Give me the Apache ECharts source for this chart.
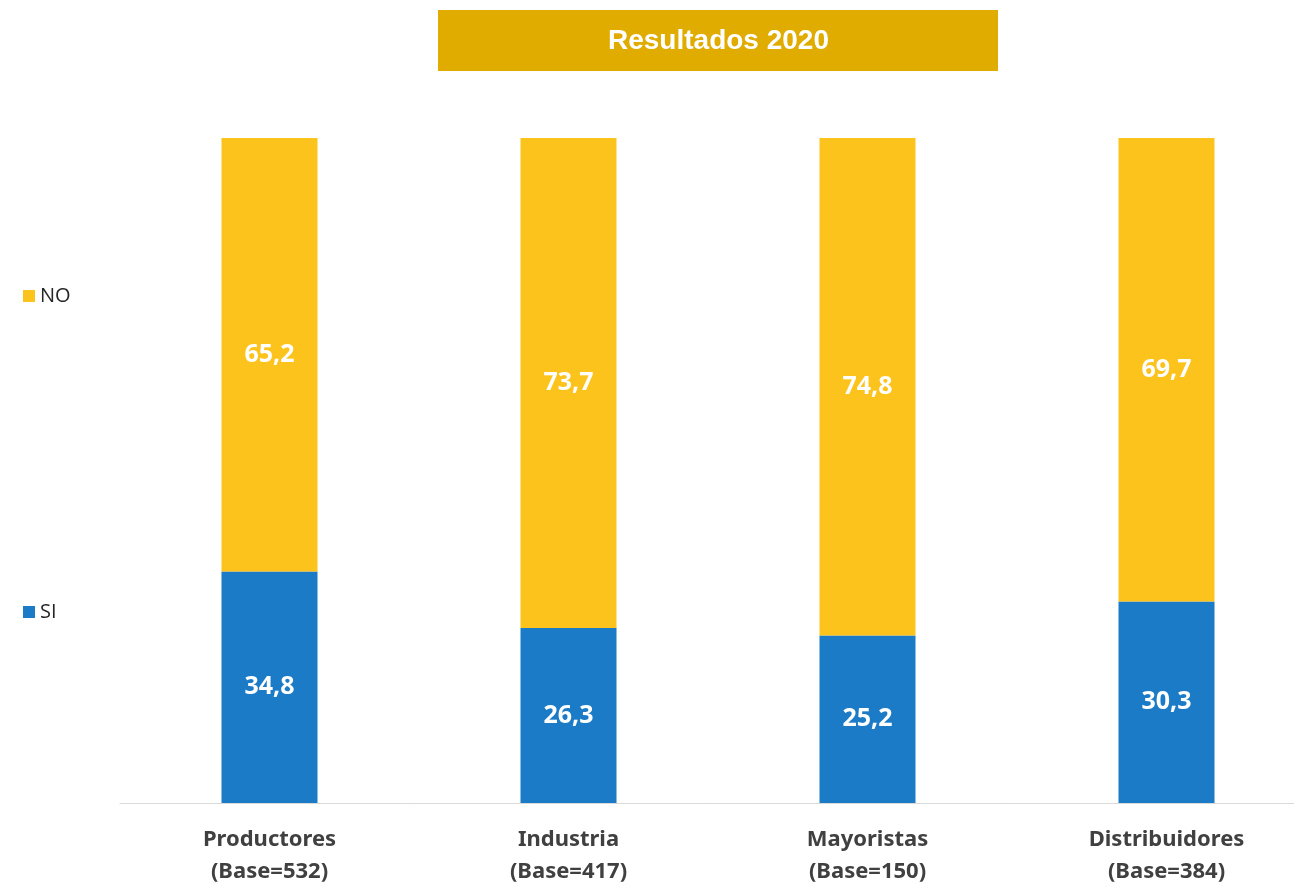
<!DOCTYPE html>
<html>
<head>
<meta charset="utf-8">
<script src="https://cdn.jsdelivr.net/npm/echarts@6/dist/echarts.min.js"></script>
<style>html,body{margin:0;padding:0;background:#fff}#c{width:1294px;height:884px}</style>
</head>
<body>
<div id="c"></div>
<script>
var categories = ['Productores\n(Base=532)', 'Industria\n(Base=417)', 'Mayoristas\n(Base=150)', 'Distribuidores\n(Base=384)'];
var siValues = [34.8, 26.3, 25.2, 30.3];
var noValues = [65.2, 73.7, 74.8, 69.7];
var titleText = 'Resultados 2020';

var chart = echarts.init(document.getElementById('c'));
var labelFmt = function (p) { return String(p.value.toFixed(1)).replace('.', ','); };
chart.setOption({
  animation: false,
  graphic: [{
    type: 'rect', left: 438, top: 10, shape: { width: 560, height: 61 },
    style: { fill: '#E0AC00' }, z: 0
  }],
  title: {
    text: titleText, left: 603, top: 22,
    textStyle: { color: '#fff', fontFamily: 'Liberation Sans', fontWeight: 'bold', fontSize: 28 }
  },
  legend: {
    orient: 'vertical', left: 18, top: 281, itemWidth: 12, itemHeight: 12, itemGap: 296,
    icon: 'rect', data: ['NO', 'SI'],
    textStyle: { color: '#262626', fontFamily: 'Open Sans', fontSize: 20 }
  },
  grid: { left: 120, top: 138, bottom: 81, width: 1196, containLabel: false, outerBoundsMode: 'none' },
  xAxis: {
    type: 'category', data: categories,
    axisLine: { lineStyle: { color: '#d9d9d9', width: 1 } },
    axisTick: { show: false },
    axisLabel: {
      color: '#404040', fontFamily: 'Noto Sans', fontWeight: 'bold', fontSize: 22,
      lineHeight: 32, margin: 21, interval: 0
    }
  },
  yAxis: { type: 'value', min: 0, max: 100, show: false, splitLine: { show: false } },
  series: [
    {
      name: 'SI', type: 'bar', stack: 'total', data: siValues, barWidth: 96,
      itemStyle: { color: '#1C7BC6' },
      label: { show: true, position: 'inside', color: '#fff', fontFamily: 'Noto Sans', fontWeight: 'bold', fontSize: 25, formatter: labelFmt }
    },
    {
      name: 'NO', type: 'bar', stack: 'total', data: noValues, barWidth: 96,
      itemStyle: { color: '#FCC31D' },
      label: { show: true, position: 'inside', color: '#fff', fontFamily: 'Noto Sans', fontWeight: 'bold', fontSize: 25, formatter: labelFmt }
    }
  ]
});
</script>
</body>
</html>
